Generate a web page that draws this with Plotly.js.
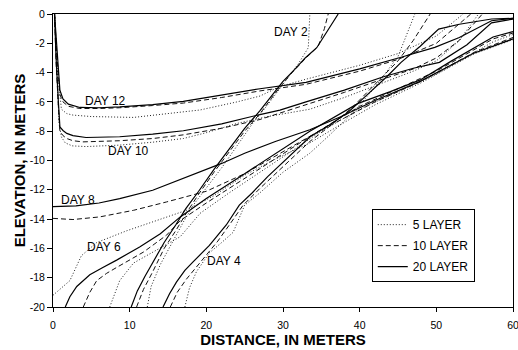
<!DOCTYPE html>
<html>
<head>
<meta charset="utf-8">
<script src="https://cdn.plot.ly/plotly-3.0.1.min.js"></script>
<style>html,body{margin:0;padding:0;background:#fff;}#chart{width:518px;height:350px;}</style>
</head>
<body>
<div id="chart"></div>
<script>
// ---- Data ----
const layerNames = ["5 LAYER", "10 LAYER", "20 LAYER"];

// DAY 12
const day12_5x  = [0.2,0.6,1.1,1.8,2.6,5,10.5,15,19.2,24,27,29.6,33,40,45,50,53.5];
const day12_5y  = [0,-4,-6.5,-6.8,-6.9,-7.0,-7.06,-6.8,-6.55,-6.0,-5.6,-4.95,-4.45,-3.5,-2.7,-1.5,0];
const day12_10x = [0.2,0.5,0.9,1.3,2,3.5,6,8.7,13,17,22,27,33,40,45,50,54.5];
const day12_10y = [0,-2.8,-5.5,-6.0,-6.3,-6.45,-6.45,-6.4,-6.25,-6.08,-5.7,-5.25,-4.8,-3.9,-3.1,-2.0,0];
const day12_20x = [0.2,0.5,0.9,1.3,2,3.5,6,8.7,13,17,22,27,33,40,45.4,49.8,53,57.2,60];
const day12_20y = [0,-2.5,-5.2,-5.8,-6.15,-6.38,-6.4,-6.34,-6.18,-5.97,-5.55,-5.1,-4.67,-3.75,-2.95,-2.28,-1.6,-0.46,-0.3];

// DAY 10
const day10_5x  = [0.2,0.5,0.8,1.1,1.6,2.5,4.3,8.7,13,17,20,24,28,33.5,38,43,47,50,53,55.5];
const day10_5y  = [0,-4,-7.5,-8.4,-8.8,-9.0,-9.05,-8.95,-8.75,-8.5,-8.1,-7.47,-7.0,-6.5,-5.7,-4.7,-3.9,-3.2,-1.8,0];
const day10_10x = [0.2,0.4,0.7,0.9,1.3,1.8,2.6,3.9,8.7,13,17,22,27,33,38,43,47,50,53,56];
const day10_10y = [0,-3.3,-6.3,-8.0,-8.3,-8.5,-8.65,-8.73,-8.65,-8.5,-8.25,-7.8,-7.2,-6.2,-5.35,-4.45,-3.75,-3.0,-1.8,0];
const day10_20x = [0.2,0.4,0.7,0.9,1.3,1.8,2.6,3.5,4.3,8.7,13,17,22,26.7,29.6,33,38,43,47,50.4,54,57.2,60];
const day10_20y = [0,-3,-6,-7.7,-7.95,-8.15,-8.3,-8.38,-8.43,-8.38,-8.2,-7.97,-7.5,-6.9,-6.56,-6.0,-5.2,-4.3,-3.7,-3.3,-2.1,-0.6,-0.35];

// DAY 8
const day8_5x  = [0,2.2,3.7,5.7,9.6,13.5,17.4,21,25,29,33.5,38,42,48,55,60];
const day8_5y  = [-19.2,-18.2,-16.5,-15.6,-14.8,-14.1,-13.4,-12.4,-11.0,-9.9,-8.8,-7.4,-6.2,-4.7,-2.7,-1.75];
const day8_10x = [0,2.6,6.1,10.5,14.8,20,25,30,34,38,42,48,55,60];
const day8_10y = [-13.95,-14.03,-13.85,-13.4,-12.83,-12.1,-10.9,-9.4,-8.2,-7.1,-6.0,-4.6,-2.6,-1.6];
const day8_20x = [0,3,6,8.7,13,17,19.2,22,25,29,33.5,37.6,42,47.9,54.8,60];
const day8_20y = [-13.15,-13.1,-12.9,-12.6,-12.03,-11.23,-10.8,-10.2,-9.5,-8.7,-7.9,-7.0,-5.9,-4.6,-2.7,-1.7];

// DAY 6
const day6_5x  = [7.4,8.0,8.7,10.5,13.5,16.6,19.2,23,27,31,35,40,45,50,57.4,60];
const day6_5y  = [-20,-19.2,-18.2,-17.0,-16.1,-15.2,-13.6,-12.2,-10.8,-9.4,-8.0,-6.5,-5.3,-4.1,-1.9,-1.4];
const day6_10x = [3.95,4.8,5.7,7,8.3,10,11.8,14.8,16.6,20,25,30,34,40,45,50,57.4,60];
const day6_10y = [-20,-19,-18.2,-17.7,-17.3,-16.8,-16.25,-15.1,-14.1,-12.9,-11.2,-9.5,-8.2,-6.3,-5.1,-3.9,-1.7,-1.3];
const day6_20x = [1.6,2.2,3.1,4.8,6.5,8.3,11.3,14,16.6,20,25,30,33.5,39.8,44,47.9,52,57.4,60];
const day6_20y = [-20,-19.3,-18.6,-17.8,-17.3,-16.8,-15.9,-15.0,-13.85,-12.6,-10.9,-9.2,-8.0,-6.1,-5.3,-4.5,-3.2,-1.57,-1.2];

// DAY 4
const day4_5x  = [17.2,17.8,18.7,20.4,22,23.5,25,27,30,33.5,36,39,42,45,47.2];
const day4_5y  = [-20,-18.7,-17.6,-16.3,-15.6,-14.9,-13.05,-12.2,-10.8,-9.5,-8.3,-6.8,-5.0,-2.9,0];
const day4_10x = [15.3,16.2,17.4,18.7,20,21.5,23,24.8,27,30,33.5,36,39,42,45,47,49.2];
const day4_10y = [-20,-19,-18.1,-17.3,-16.5,-15.5,-14.4,-13.05,-11.9,-10.4,-8.7,-7.7,-6.4,-4.8,-3.2,-1.8,0];
const day4_20x = [14.35,15.2,16.1,17.2,18.3,19.4,20.4,21.5,22.6,24.3,26,28,30,32,33.5,36,38.5,41,43.5,45.4,47.9,50.3,53,57.2,60];
const day4_20y = [-20,-19.1,-18.3,-17.5,-16.9,-16.3,-15.8,-15.1,-14.4,-13.05,-12.2,-11.1,-10.1,-9.1,-8.4,-7.6,-6.7,-5.5,-4.3,-3.3,-2.2,-1.03,-0.7,-0.34,-0.3];

// DAY 2
const day2_5x  = [12.3,12.8,14,15.5,17,18.5,20,22,24,26,28,30,32,33.3,33.5];
const day2_5y  = [-20,-18.6,-17.1,-15.6,-14.2,-12.9,-11.9,-10.5,-9.0,-7.5,-6.2,-4.8,-3.4,-2.3,0];
const day2_10x = [10.9,11.8,13,14.5,16,17.5,19,21,23,25,27,29,31,33,34.6,35.4,35.9];
const day2_10y = [-20,-18.8,-17.6,-16.0,-14.8,-13.5,-12.3,-10.8,-9.4,-8.0,-6.8,-5.4,-4.1,-3.0,-2.2,-1.0,0];
const day2_20x = [10.2,11,12,13,14.5,16,17.3,19,21,23,25,27,28.5,30,31.5,32.9,34.4,36,37.2];
const day2_20y = [-20,-18.9,-17.9,-17.0,-15.6,-14.4,-13.3,-12.1,-10.6,-9.2,-7.8,-6.6,-5.6,-4.6,-3.8,-3.0,-2.3,-1.0,0];

// Day labels
const dayLabels = ["DAY 12","DAY 10","DAY 8","DAY 6","DAY 4","DAY 2"];
const dayLabelX = [6.8, 9.8, 3.2, 6.6, 22.3, 31.1];
const dayLabelY = [-5.93, -9.33, -12.7, -15.9, -16.86, -1.21];

// Axis ticks
const xTicks = [0,10,20,30,40,50,60];
const yTicks = [0,-2,-4,-6,-8,-10,-12,-14,-16,-18,-20];
const yTickText = ["0","-2","-4","-6","-8","-10","-12","-14","-16","-18","-20"];

// ---- Build traces ----
const series = [
  [[day12_5x,day12_5y],[day12_10x,day12_10y],[day12_20x,day12_20y]],
  [[day10_5x,day10_5y],[day10_10x,day10_10y],[day10_20x,day10_20y]],
  [[day8_5x,day8_5y],[day8_10x,day8_10y],[day8_20x,day8_20y]],
  [[day6_5x,day6_5y],[day6_10x,day6_10y],[day6_20x,day6_20y]],
  [[day4_5x,day4_5y],[day4_10x,day4_10y],[day4_20x,day4_20y]],
  [[day2_5x,day2_5y],[day2_10x,day2_10y],[day2_20x,day2_20y]]
];
const styles = [
  {color:'#222', width:1, dash:'1px,2px'},
  {color:'#111', width:1, dash:'5px,3px'},
  {color:'#000', width:1.2, dash:'solid'}
];
const traces = [];
series.forEach((day, di) => {
  day.forEach((xy, li) => {
    traces.push({
      type:'scatter', mode:'lines', x:xy[0], y:xy[1],
      name: layerNames[li], legendgroup: 'g'+li, legendrank: li+1,
      showlegend: di === 0,
      line: styles[li], hoverinfo:'skip'
    });
  });
});

const annotations = dayLabels.map((t,i) => ({
  x: dayLabelX[i], y: dayLabelY[i], xref:'x', yref:'y', text:t, showarrow:false,
  font:{family:'Liberation Sans, Arial, sans-serif', size:12, color:'#000'}
}));

const font = 'Liberation Sans, Arial, sans-serif';
const layout = {
  width:518, height:350,
  margin:{l:53, r:5, t:14, b:43},
  paper_bgcolor:'#fff', plot_bgcolor:'#fff',
  font:{family:font, size:10.5, color:'#000'},
  showlegend:true,
  legend:{x:0.693, y:0.334, xanchor:'left', yanchor:'top', bordercolor:'#000', borderwidth:1,
          bgcolor:'#fff', font:{family:font, size:12, color:'#000'}, tracegroupgap:2,
          traceorder:'grouped'},
  xaxis:{range:[0,60], tickvals:xTicks, ticks:'outside', ticklen:4, tickcolor:'#000',
         showline:true, linecolor:'#000', linewidth:1, mirror:true, showgrid:false, zeroline:false,
         ticklabelstandoff:4, ticklabeloverflow:'allow',
         title:{text:'DISTANCE, IN METERS', font:{family:font, size:15, weight:'bold', color:'#000'}, standoff:0}},
  yaxis:{range:[-20,0], tickvals:yTicks, ticktext:yTickText, ticks:'outside', ticklen:5, tickcolor:'#000',
         showline:true, linecolor:'#000', linewidth:1, mirror:true, showgrid:false, zeroline:false,
         title:{text:'ELEVATION, IN METERS', font:{family:font, size:15, weight:'bold', color:'#000'}, standoff:0}},
  annotations: annotations
};

Plotly.newPlot('chart', traces, layout, {displayModeBar:false, staticPlot:true});
</script>
</body>
</html>
